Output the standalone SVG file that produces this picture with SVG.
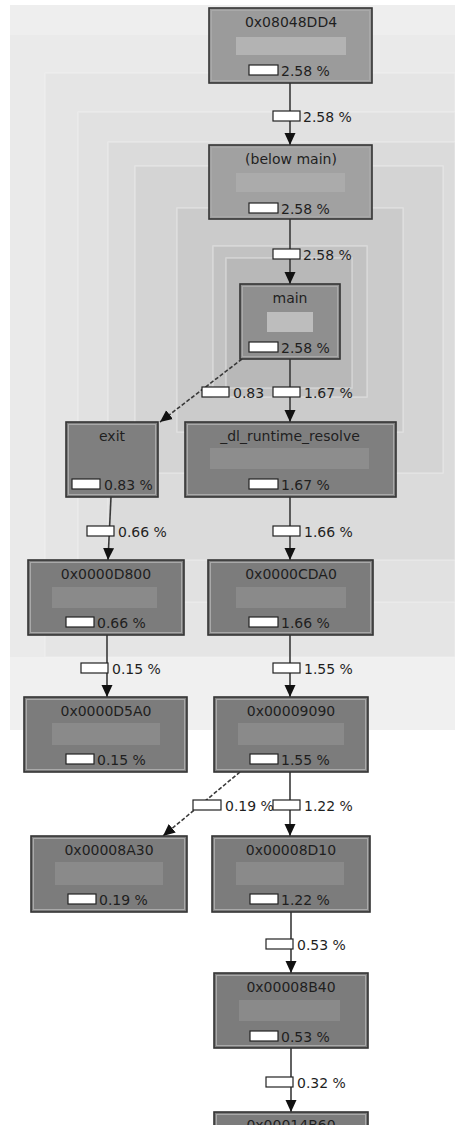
<svg xmlns="http://www.w3.org/2000/svg" width="455" height="1125" viewBox="0 0 455 1125">
  <style>
    text { font-family: "DejaVu Sans", "Liberation Sans", sans-serif; fill: #1f1f1f; }
    .title { font-size: 14px; text-anchor: middle; }
    .pct { font-size: 14px; }
    .node { stroke: #333; stroke-width: 1.6; }
    .inner { fill: none; stroke: #a9a9a9; stroke-width: 1; }
    .bar { stroke: none; }
    .pbox { fill: #fff; stroke: #222; stroke-width: 1.2; }
    .edge { stroke: #3a3a3a; stroke-width: 1.6; fill: none; marker-end: url(#arrow); }
    .dashed { stroke-dasharray: 4 2; }
    .bg { stroke: #f2f2f2; stroke-opacity: 0.45; stroke-width: 1.5; }
  </style>
  <defs>
    <marker id="arrow" markerUnits="userSpaceOnUse" markerWidth="12" markerHeight="12" viewBox="0 0 12 12" refX="12" refY="6" orient="auto">
      <path d="M0,0.5 L12,6 L0,11.5 z" fill="#111"/>
    </marker>
  </defs>

  <!-- canvas background with nested cost areas -->
  <rect x="0" y="0" width="455" height="1125" fill="#fff"/>
  <g id="background">
    <rect x="10" y="5" width="445" height="725" fill="#eaeaea"/>
    <rect x="10" y="5" width="445" height="30" fill="#eeeeee"/>
    <rect x="10" y="657" width="445" height="73" fill="#f0f0f0"/>
    <rect class="bg" x="45" y="73" width="410" height="584" fill="#e5e5e5"/>
    <rect class="bg" x="78" y="112" width="377" height="490" fill="#e1e1e1"/>
    <rect class="bg" x="108" y="142" width="347" height="418" fill="#dbdbdb"/>
    <rect class="bg" x="135" y="166" width="308" height="307" fill="#d4d4d4"/>
    <rect class="bg" x="177" y="208" width="226" height="224" fill="#cbcbcb"/>
    <rect class="bg" x="213" y="246" width="154" height="151" fill="#c2c2c2"/>
    <rect class="bg" x="226" y="258" width="126" height="130" fill="#b8b8b8"/>
  </g>

  <!-- call edges -->
  <g id="edges">
    <line class="edge" x1="290" y1="83" x2="290" y2="145"/>
    <line class="edge" x1="290" y1="219" x2="290" y2="284"/>
    <line class="edge dashed" x1="242" y1="359" x2="160" y2="422"/>
    <line class="edge" x1="290" y1="359" x2="290" y2="422"/>
    <line class="edge" x1="111" y1="497" x2="108" y2="560"/>
    <line class="edge" x1="290" y1="497" x2="290" y2="560"/>
    <line class="edge" x1="107" y1="635" x2="107" y2="697"/>
    <line class="edge" x1="290" y1="635" x2="290" y2="697"/>
    <line class="edge dashed" x1="240" y1="772" x2="163" y2="836"/>
    <line class="edge" x1="290" y1="772" x2="290" y2="836"/>
    <line class="edge" x1="291" y1="912" x2="291" y2="973"/>
    <line class="edge" x1="291" y1="1048" x2="291" y2="1112"/>

    <!-- edge labels -->
    <rect class="pbox" x="273" y="111" width="27" height="10"/>
    <text class="pct" x="303" y="122">2.58 %</text>
    <rect class="pbox" x="273" y="249" width="27" height="10"/>
    <text class="pct" x="303" y="260">2.58 %</text>
    <rect class="pbox" x="202" y="387" width="27" height="10"/>
    <text class="pct" x="233" y="398">0.83</text>
    <rect class="pbox" x="273" y="387" width="27" height="10"/>
    <text class="pct" x="304" y="398">1.67 %</text>
    <rect class="pbox" x="87" y="526" width="27" height="10"/>
    <text class="pct" x="118" y="537">0.66 %</text>
    <rect class="pbox" x="273" y="526" width="27" height="10"/>
    <text class="pct" x="304" y="537">1.66 %</text>
    <rect class="pbox" x="81" y="663" width="27" height="10"/>
    <text class="pct" x="112" y="674">0.15 %</text>
    <rect class="pbox" x="273" y="663" width="27" height="10"/>
    <text class="pct" x="304" y="674">1.55 %</text>
    <text class="pct" x="225" y="811">0.19 %</text>
    <rect class="pbox" x="193" y="800" width="28" height="10"/>
    <rect class="pbox" x="273" y="800" width="27" height="10"/>
    <text class="pct" x="304" y="811">1.22 %</text>
    <rect class="pbox" x="266" y="939" width="27" height="10"/>
    <text class="pct" x="297" y="950">0.53 %</text>
    <rect class="pbox" x="266" y="1077" width="27" height="10"/>
    <text class="pct" x="297" y="1088">0.32 %</text>
  </g>

  <!-- function nodes -->
  <g id="n_08048DD4">
    <rect class="node" x="209" y="8" width="163" height="75" fill="#9b9b9b"/>
    <rect class="inner" x="211.5" y="10.5" width="158" height="70"/>
    <rect class="bar" x="236" y="37" width="110" height="18" fill="#b3b3b3"/>
    <text class="title" x="291" y="27">0x08048DD4</text>
    <rect class="pbox" x="249" y="65" width="29" height="10"/>
    <text class="pct" x="281" y="76">2.58 %</text>
  </g>

  <g id="n_below_main">
    <rect class="node" x="209" y="145" width="163" height="74" fill="#a1a1a1"/>
    <rect class="inner" x="211.5" y="147.5" width="158" height="69"/>
    <rect class="bar" x="236" y="173" width="109" height="19" fill="#ababab"/>
    <text class="title" x="291" y="164">(below main)</text>
    <rect class="pbox" x="249" y="203" width="29" height="10"/>
    <text class="pct" x="281" y="214">2.58 %</text>
  </g>

  <g id="n_main">
    <rect class="node" x="240" y="284" width="100" height="75" fill="#8f8f8f"/>
    <rect class="inner" x="242.5" y="286.5" width="95" height="70"/>
    <rect class="bar" x="267" y="312" width="46" height="20" fill="#bdbdbd"/>
    <text class="title" x="290" y="303">main</text>
    <rect class="pbox" x="249" y="342" width="29" height="10"/>
    <text class="pct" x="281" y="353">2.58 %</text>
  </g>

  <g id="n_exit">
    <rect class="node" x="66" y="422" width="92" height="75" fill="#7f7f7f"/>
    <rect class="inner" x="68.5" y="424.5" width="87" height="70"/>
    <text class="title" x="112" y="441">exit</text>
    <rect class="pbox" x="72" y="479" width="28" height="10"/>
    <text class="pct" x="104" y="490">0.83 %</text>
  </g>

  <g id="n_dl_runtime_resolve">
    <rect class="node" x="185" y="422" width="211" height="75" fill="#7f7f7f"/>
    <rect class="inner" x="187.5" y="424.5" width="206" height="70"/>
    <rect class="bar" x="210" y="448" width="159" height="21" fill="#8d8d8d"/>
    <text class="title" x="290" y="441">_dl_runtime_resolve</text>
    <rect class="pbox" x="249" y="479" width="29" height="10"/>
    <text class="pct" x="281" y="490">1.67 %</text>
  </g>

  <g id="n_0000D800">
    <rect class="node" x="28" y="560" width="156" height="75" fill="#7c7c7c"/>
    <rect class="inner" x="30.5" y="562.5" width="151" height="70"/>
    <rect class="bar" x="52" y="587" width="105" height="21" fill="#8a8a8a"/>
    <text class="title" x="106" y="579">0x0000D800</text>
    <rect class="pbox" x="66" y="617" width="28" height="10"/>
    <text class="pct" x="97" y="628">0.66 %</text>
  </g>

  <g id="n_0000CDA0">
    <rect class="node" x="208" y="560" width="165" height="75" fill="#7c7c7c"/>
    <rect class="inner" x="210.5" y="562.5" width="160" height="70"/>
    <rect class="bar" x="236" y="587" width="110" height="21" fill="#8a8a8a"/>
    <text class="title" x="291" y="579">0x0000CDA0</text>
    <rect class="pbox" x="249" y="617" width="29" height="10"/>
    <text class="pct" x="281" y="628">1.66 %</text>
  </g>

  <g id="n_0000D5A0">
    <rect class="node" x="24" y="697" width="163" height="75" fill="#7c7c7c"/>
    <rect class="inner" x="26.5" y="699.5" width="158" height="70"/>
    <rect class="bar" x="52" y="723" width="108" height="22" fill="#8a8a8a"/>
    <text class="title" x="106" y="716">0x0000D5A0</text>
    <rect class="pbox" x="66" y="754" width="28" height="10"/>
    <text class="pct" x="97" y="765">0.15 %</text>
  </g>

  <g id="n_00009090">
    <rect class="node" x="214" y="697" width="154" height="75" fill="#7c7c7c"/>
    <rect class="inner" x="216.5" y="699.5" width="149" height="70"/>
    <rect class="bar" x="238" y="723" width="106" height="22" fill="#8a8a8a"/>
    <text class="title" x="291" y="716">0x00009090</text>
    <rect class="pbox" x="250" y="754" width="28" height="10"/>
    <text class="pct" x="281" y="765">1.55 %</text>
  </g>

  <g id="n_00008A30">
    <rect class="node" x="31" y="836" width="156" height="76" fill="#7c7c7c"/>
    <rect class="inner" x="33.5" y="838.5" width="151" height="71"/>
    <rect class="bar" x="55" y="862" width="108" height="23" fill="#8a8a8a"/>
    <text class="title" x="109" y="855">0x00008A30</text>
    <rect class="pbox" x="68" y="894" width="28" height="10"/>
    <text class="pct" x="99" y="905">0.19 %</text>
  </g>

  <g id="n_00008D10">
    <rect class="node" x="212" y="836" width="158" height="76" fill="#7c7c7c"/>
    <rect class="inner" x="214.5" y="838.5" width="153" height="71"/>
    <rect class="bar" x="236" y="862" width="108" height="23" fill="#8a8a8a"/>
    <text class="title" x="291" y="855">0x00008D10</text>
    <rect class="pbox" x="250" y="894" width="28" height="10"/>
    <text class="pct" x="281" y="905">1.22 %</text>
  </g>

  <g id="n_00008B40">
    <rect class="node" x="214" y="973" width="154" height="75" fill="#7c7c7c"/>
    <rect class="inner" x="216.5" y="975.5" width="149" height="70"/>
    <rect class="bar" x="239" y="1000" width="101" height="21" fill="#8a8a8a"/>
    <text class="title" x="291" y="992">0x00008B40</text>
    <rect class="pbox" x="250" y="1031" width="28" height="10"/>
    <text class="pct" x="281" y="1042">0.53 %</text>
  </g>

  <g id="n_00014B60">
    <rect class="node" x="214" y="1112" width="154" height="75" fill="#7c7c7c"/>
    <rect class="inner" x="216.5" y="1114.5" width="149" height="70"/>
    <text class="title" x="291" y="1130">0x00014B60</text>
  </g>
</svg>
